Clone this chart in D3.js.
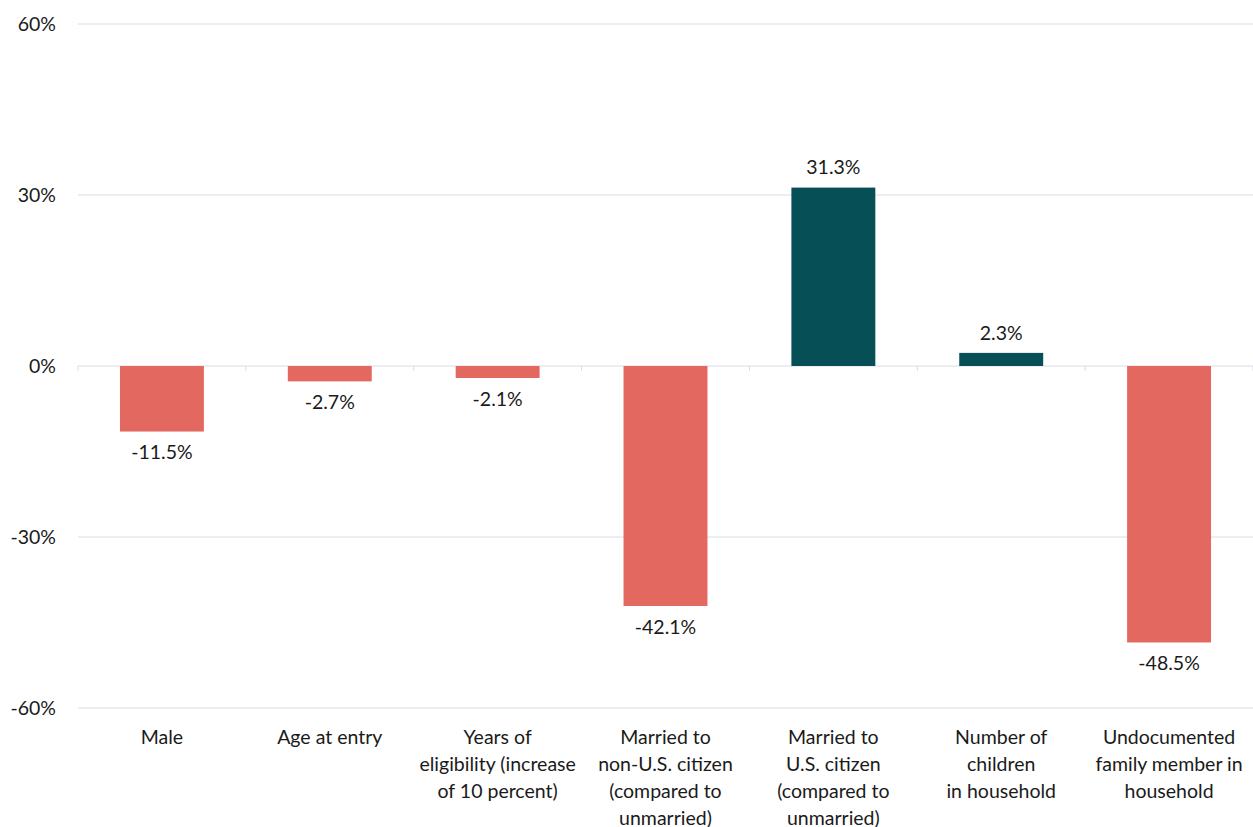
<!DOCTYPE html>
<html><head><meta charset="utf-8">
<script src="https://d3js.org/d3.v7.min.js"></script>
<style>body{margin:0;background:#fff;} text{font-family:Lato, "Open Sans", sans-serif;fill:#1a1a1a;}</style>
</head><body><svg id="c" width="1253" height="827"></svg>
<script>
const categories = [
  ["Male"],
  ["Age at entry"],
  ["Years of","eligibility (increase","of 10 percent)"],
  ["Married to","non-U.S. citizen","(compared to","unmarried)"],
  ["Married to","U.S. citizen","(compared to","unmarried)"],
  ["Number of","children","in household"],
  ["Undocumented","family member in","household"]
];
const values = [-11.5, -2.7, -2.1, -42.1, 31.3, 2.3, -48.5];
const yTicks = [-60, -30, 0, 30, 60];

const svg = d3.select("#c");
const mLeft = 78, mRight = 1253, mTop = 24, mBottom = 708;
const fs = 19.5;
const x = d3.scaleBand().domain(d3.range(categories.length)).range([mLeft, mRight]).paddingInner(0.5).paddingOuter(0.25);
const y = d3.scaleLinear().domain([-60, 60]).range([mBottom, mTop]);

svg.append("g").selectAll("line").data(yTicks).join("line")
  .attr("x1", mLeft).attr("x2", mRight)
  .attr("y1", d => y(d)).attr("y2", d => y(d))
  .attr("stroke", "#d9dce6").attr("stroke-width", 1);

svg.append("g").selectAll("text").data(yTicks).join("text")
  .attr("x", 56).attr("y", d => y(d)).attr("dy", "0.35em")
  .attr("text-anchor", "end").attr("font-size", fs)
  .text(d => d + "%");

// category boundary ticks on zero line
const bounds = d3.range(categories.length + 1).map(i => mLeft + i * (mRight - mLeft) / categories.length);
svg.append("g").selectAll("line").data(bounds).join("line")
  .attr("x1", d => d).attr("x2", d => d)
  .attr("y1", y(0)).attr("y2", y(0) + 5)
  .attr("stroke", "#d9dce6");

svg.append("g").selectAll("rect").data(values).join("rect")
  .attr("x", (d, i) => x(i)).attr("width", x.bandwidth())
  .attr("y", d => y(Math.max(0, d)))
  .attr("height", d => Math.abs(y(d) - y(0)))
  .attr("fill", d => d < 0 ? "#e26860" : "#064f57");

svg.append("g").selectAll("text").data(values).join("text")
  .attr("x", (d, i) => x(i) + x.bandwidth() / 2)
  .attr("y", d => d < 0 ? y(d) + 21 : y(d) - 20)
  .attr("dy", "0.35em").attr("text-anchor", "middle").attr("font-size", fs)
  .text(d => d.toFixed(1) + "%");

const lbl = svg.append("g").selectAll("text").data(categories).join("text")
  .attr("x", (d, i) => x(i) + x.bandwidth() / 2)
  .attr("y", 737).attr("text-anchor", "middle").attr("font-size", fs);
lbl.each(function(lines, i) {
  const t = d3.select(this);
  lines.forEach((s, j) => {
    t.append("tspan").attr("x", x(i) + x.bandwidth() / 2)
      .attr("y", 737 + j * 27).attr("dy", "0.35em").text(s);
  });
});
</script></body></html>
